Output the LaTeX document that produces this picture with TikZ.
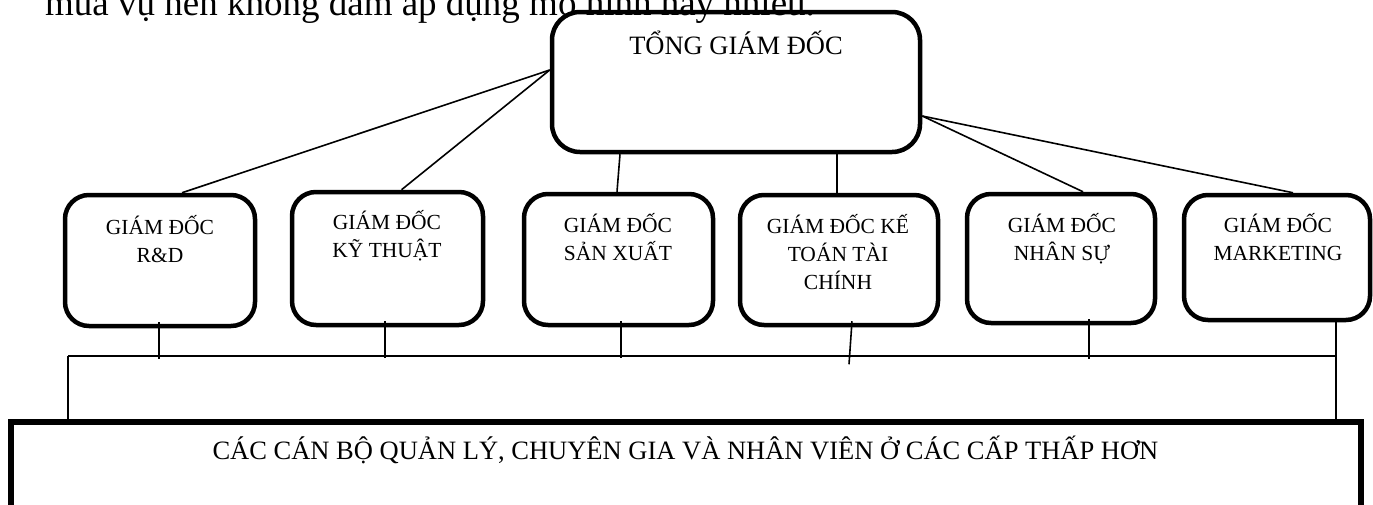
\documentclass[tikz,border=0pt]{standalone}
\usepackage{fontspec}
\setmainfont{Liberation Serif}
\usetikzlibrary{calc}
\begin{document}
\begin{tikzpicture}[x=1pt,y=-1pt,
  boss/.style={draw, line width=4.5pt, rounded corners=28pt, inner sep=0pt},
  dept/.style={draw, line width=4.5pt, rounded corners=24pt, inner sep=0pt},
  staff/.style={draw, line width=5.5pt, inner sep=0pt},
  deptlabel/.style={font=\fontsize{21.5}{28}\selectfont, align=center, inner sep=0pt, anchor=base},
  biglabel/.style={font=\fontsize{26.5}{32}\selectfont, inner sep=0pt, anchor=base},
  link/.style={line width=1.6pt}]
\useasboundingbox (0,0) rectangle (1373,504);

% running paragraph text above the chart
\node[font=\fontsize{37}{44}\selectfont, inner sep=0pt, anchor=base west] (para)
  at (45,15) {mùa vụ nên không dám áp dụng mô hình này nhiều.};

% general director
\node[boss, minimum width=368pt, minimum height=140pt] (top) at (736,82) {};
\node[biglabel] (topt) at (736,54) {TỔNG GIÁM ĐỐC};

% department directors
\node[dept, minimum width=190pt, minimum height=131pt] (b1) at (160,260.5) {};
\node[dept, minimum width=191pt, minimum height=133pt] (b2) at (387.5,258.5) {};
\node[dept, minimum width=189pt, minimum height=131pt] (b3) at (618.5,259.5) {};
\node[dept, minimum width=198pt, minimum height=130pt] (b4) at (839,260) {};
\node[dept, minimum width=188pt, minimum height=129pt] (b5) at (1061,258.5) {};
\node[dept, minimum width=186pt, minimum height=125pt] (b6) at (1277,257.5) {};

% multi-line labels: the base anchor sits on the last line
\node[deptlabel] (b1t) at (160,262) {GIÁM ĐỐC\\R\&D};
\node[deptlabel] (b2t) at (387,257) {GIÁM ĐỐC\\KỸ THUẬT};
\node[deptlabel] (b3t) at (618,260) {GIÁM ĐỐC\\SẢN XUẤT};
\node[deptlabel] (b4t) at (838,289) {GIÁM ĐỐC KẾ\\TOÁN TÀI\\CHÍNH};
\node[deptlabel] (b5t) at (1062,260) {GIÁM ĐỐC\\NHÂN SỰ};
\node[deptlabel] (b6t) at (1278,260) {GIÁM ĐỐC\\MARKETING};

% lower-level staff
\node[staff, minimum width=1350pt, minimum height=138pt] (staff) at (685.75,491) {};
\node[biglabel] (stafft) at (685.5,459) {CÁC CÁN BỘ QUẢN LÝ, CHUYÊN GIA VÀ NHÂN VIÊN Ở CÁC CẤP THẤP HƠN};

% links from the general director
\draw[link] ([yshift=12pt]top.west) -- ([xshift=22pt]b1.north);
\draw[link] ([yshift=12pt]top.west) -- ([xshift=14pt]b2.north);
\draw[link] ([xshift=-116pt]top.south) -- ([xshift=-1.5pt]b3.north);
\draw[link] ([xshift=101pt]top.south) -- ([xshift=-2pt]b4.north);
\draw[link] ([yshift=-34pt]top.east) -- ([xshift=22pt]b5.north);
\draw[link] ([yshift=-34pt]top.east) -- ([xshift=16pt]b6.north);

% bus joining the directors to the staff
\coordinate (busL) at (68,356);
\coordinate (busR) at (1336,356);
\draw[link] (busL) -- (busR);
\draw[link] ([xshift=-1pt,yshift=6pt]b1.south) -- ++(0,37);
\draw[link] ([xshift=-2.5pt,yshift=6pt]b2.south) -- ++(0,37);
\draw[link] ([xshift=2.5pt,yshift=6pt]b3.south) -- ++(0,37);
\draw[link] ([xshift=13pt,yshift=6pt]b4.south) -- ++(-3,43);
\draw[link] ([xshift=28pt,yshift=6pt]b5.south) -- ++(0,40);
\draw[link] ([xshift=59pt,yshift=4pt]b6.south) -- (busR |- staff.north);
\draw[link] (busL) -- (busL |- staff.north);
\end{tikzpicture}
\end{document}
